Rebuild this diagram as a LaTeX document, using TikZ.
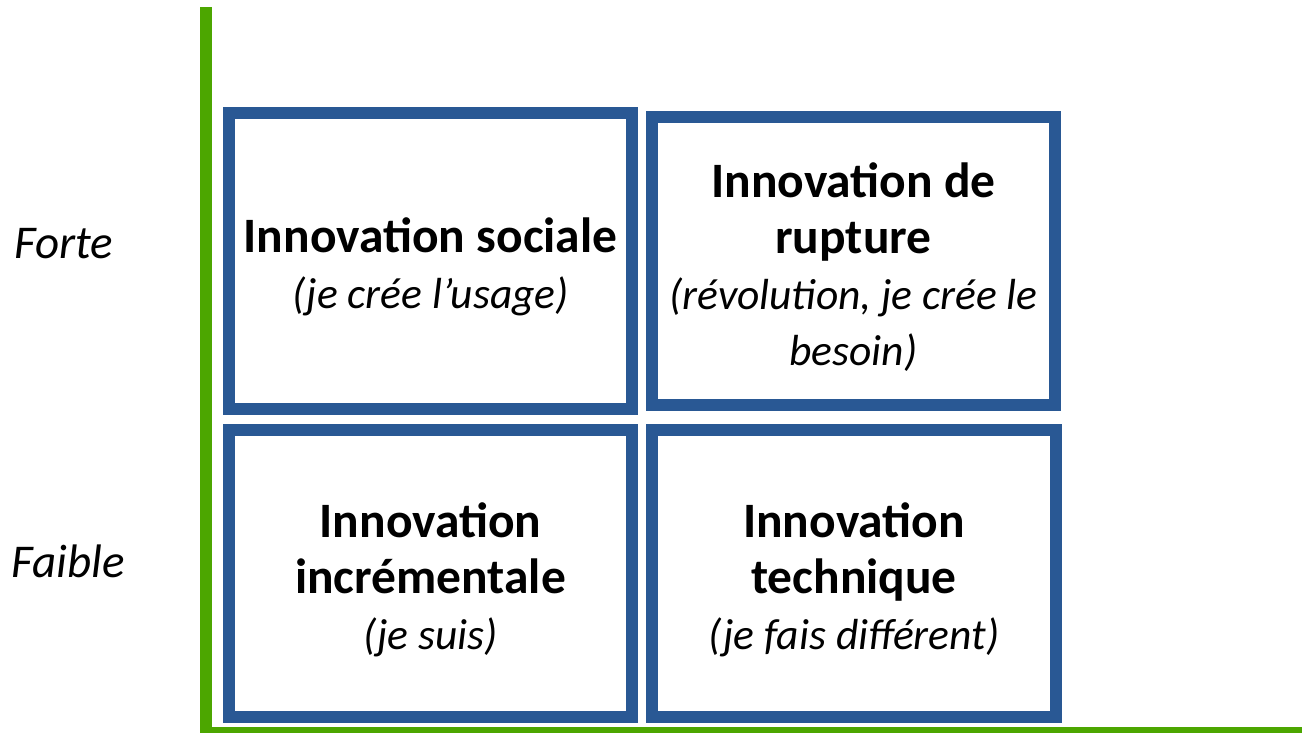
\documentclass[tikz,border=0pt]{standalone}
\usepackage{fontspec}
\setmainfont{Carlito}
\definecolor{quadblue}{RGB}{41,88,148}
\definecolor{axisgreen}{RGB}{76,166,0}
\newcommand{\quadsub}[1]{{\mdseries\itshape\fontsize{43.5}{56}\selectfont #1}}
\tikzset{
  quadrant/.style = {shape=rectangle, draw=quadblue, line width=12pt,
                     minimum width=403pt, minimum height=287pt},
  quadtext/.style = {align=flush center, inner sep=0pt, text width=395pt, yshift=-6pt,
                     font=\bfseries\fontsize{49.5}{56}\selectfont},
  level/.style    = {anchor=base, font=\itshape\fontsize{47}{50}\selectfont},
  axis/.style     = {draw=axisgreen, line width=12pt, line join=miter}
}

\begin{document}
\begin{tikzpicture}[x=1pt, y=-1pt]
  \useasboundingbox (0,0) rectangle (1302,732);

  % axes
  \coordinate (ytop)   at (206,7);
  \coordinate (origin) at (206,733);
  \coordinate (xend)   at (1312,733);
  \draw [axis] (ytop) -- (origin) -- (xend);

  % quadrants
  \node [quadrant, minimum height=296pt]   (sociale)      at (430.5,260.5)  {};
  \node [quadrant, minimum height=287.5pt] (rupture)      at (853.5,260.75) {};
  \node [quadrant]                         (incrementale) at (430.5,573.5)  {};
  \node [quadrant, minimum width=404pt]    (technique)    at (854,573.5)    {};

  \node [quadtext] (sociale-txt) at (sociale.center)
    {Innovation sociale\\\quadsub{(je crée l’usage)}};
  \node [quadtext] (rupture-txt) at (rupture.center)
    {Innovation de\\rupture\\\quadsub{(révolution, je crée le}\\\quadsub{besoin)}};
  \node [quadtext] (incrementale-txt) at (incrementale.center)
    {Innovation\\incrémentale\\\quadsub{(je suis)}};
  \node [quadtext] (technique-txt) at (technique.center)
    {Innovation\\technique\\\quadsub{(je fais différent)}};

  % levels
  \node [level] (forte)  at (64,258) {Forte};
  \node [level] (faible) at (68,577) {Faible};
\end{tikzpicture}
\end{document}
